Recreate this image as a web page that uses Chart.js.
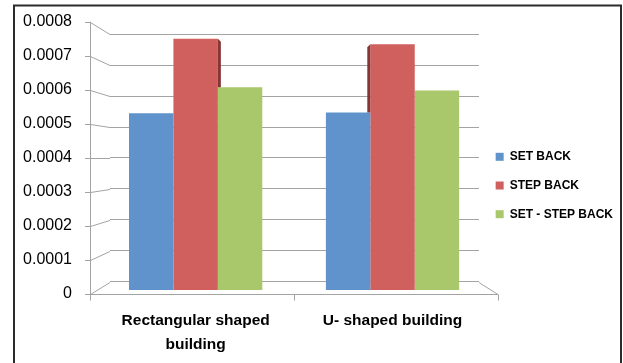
<!DOCTYPE html>
<html>
<head>
<meta charset="utf-8">
<script src="https://cdn.jsdelivr.net/npm/chart.js@4"></script>
<style>
    body { margin: 0; background: #fff; }
    #wrap { position: relative; width: 623px; height: 363px; }
</style>
</head>
<body>
<div id="wrap"><canvas id="buildingChart"></canvas></div>
<script>
// Chart data
const categories = [["Rectangular shaped", "building"], "U- shaped building"];
const setBack = [0.000538, 0.00054];
const stepBack = [0.000765, 0.000748];
const setStepBack = [0.000617, 0.000607];
const yTickValues = [0, 0.0001, 0.0002, 0.0003, 0.0004, 0.0005, 0.0006, 0.0007, 0.0008];
const yTickLabels = ["0", "0.0001", "0.0002", "0.0003", "0.0004", "0.0005", "0.0006", "0.0007", "0.0008"];

const gridColor = '#A3A3A3';
const fontFamily = "'Liberation Sans', Arial, sans-serif";

function toPoints(arr) {
    return arr.map((v, i) => ({ x: i, y: v }));
}

function setTicks(values) {
    return axis => { axis.ticks = values.map(v => ({ value: v })); };
}

// Draws the outer frame plus the 3D wall / floor edges of the Excel-style plot
const frame3d = {
    id: 'frame3d',
    beforeDraw(chart) {
        const ctx = chart.ctx;
        ctx.save();
        ctx.strokeStyle = '#2b2b2b';
        ctx.lineWidth = 2;
        ctx.strokeRect(14, 5.5, 607, 400);
        ctx.restore();
    },
    beforeDatasetsDraw(chart) {
        const { ctx, chartArea, scales } = chart;
        const front = scales.yFront, back = scales.yBack;
        const fx = chartArea.left - 20;
        const frx = chartArea.right + 19;
        const y0 = Math.round(front.getPixelForValue(0)) + 0.5;
        ctx.save();
        ctx.strokeStyle = gridColor;
        ctx.lineWidth = 1;
        ctx.beginPath();
        // front vertical axis
        ctx.moveTo(fx + 0.5, front.getPixelForValue(yTickValues[yTickValues.length - 1]));
        ctx.lineTo(fx + 0.5, y0 + 6);
        yTickValues.forEach(v => {
            const yf = Math.round(front.getPixelForValue(v)) + 0.5;
            const yb = Math.round(back.getPixelForValue(v)) + 0.5;
            ctx.moveTo(fx - 5, yf);
            ctx.lineTo(fx + 0.5, yf);
            ctx.lineTo(chartArea.left, yb);
        });
        // floor
        const yb0 = Math.round(back.getPixelForValue(0)) + 0.5;
        ctx.moveTo(fx, y0);
        ctx.lineTo(frx, y0);
        ctx.lineTo(chartArea.right, yb0);
        const mid = Math.round((fx + frx) / 2) + 0.5;
        ctx.moveTo(mid, y0);
        ctx.lineTo(mid, y0 + 6);
        ctx.moveTo(Math.round(frx) + 0.5, y0);
        ctx.lineTo(Math.round(frx) + 0.5, y0 + 6);
        ctx.stroke();
        ctx.restore();
    },
    // dark side face of the tall middle bar, visible where it rises above its neighbour
    afterDatasetsDraw(chart) {
        const ctx = chart.ctx;
        const mid = chart.getDatasetMeta(1).data;
        const left = chart.getDatasetMeta(0).data;
        const right = chart.getDatasetMeta(2).data;
        ctx.save();
        ctx.fillStyle = '#843534';
        mid.forEach((bar, i) => {
            const half = bar.width / 2;
            ctx.beginPath();
            if (i === 0) {
                const xe = bar.x + half;
                ctx.moveTo(xe, bar.y);
                ctx.lineTo(xe + 3, bar.y + 3);
                ctx.lineTo(xe + 3, right[i].y);
                ctx.lineTo(xe, right[i].y);
            } else {
                const xs = bar.x - half;
                ctx.moveTo(xs, bar.y);
                ctx.lineTo(xs - 3, bar.y + 3);
                ctx.lineTo(xs - 3, left[i].y);
                ctx.lineTo(xs, left[i].y);
            }
            ctx.closePath();
            ctx.fill();
        });
        ctx.restore();
    }
};

const ctx = document.getElementById('buildingChart').getContext('2d');
new Chart(ctx, {
    type: 'bar',
    data: {
        datasets: [
            { label: 'SET BACK', data: toPoints(setBack), backgroundColor: '#6093CB', borderWidth: 0, yAxisID: 'yBar' },
            { label: 'STEP BACK', data: toPoints(stepBack), backgroundColor: '#CF605E', borderWidth: 0, yAxisID: 'yBar' },
            { label: 'SET - STEP BACK', data: toPoints(setStepBack), backgroundColor: '#A9C76B', borderWidth: 0, yAxisID: 'yBar' }
        ]
    },
    options: {
        responsive: true,
        maintainAspectRatio: false,
        animation: false,
        categoryPercentage: 0.677,
        barPercentage: 1.0,
        layout: { padding: { top: 8, right: 0, bottom: 0, left: 0 } },
        plugins: {
            tooltip: { enabled: false },
            legend: {
                position: 'right',
                maxWidth: 144.7,
                labels: {
                    boxWidth: 8,
                    boxHeight: 8,
                    padding: 16.7,
                    color: '#000',
                    font: { family: fontFamily, size: 12, weight: 'bold' }
                }
            }
        },
        scales: {
            x: {
                type: 'linear',
                position: 'bottom',
                offset: false,
                min: -0.435,
                max: 1.439,
                grid: { display: false, drawTicks: false },
                border: { display: false },
                afterBuildTicks: setTicks([0, 1]),
                afterFit: axis => { axis.height = 69.5; },
                ticks: {
                    maxRotation: 0,
                    autoSkip: false,
                    padding: 16,
                    color: '#000',
                    font: { family: fontFamily, size: 15.5, weight: 'bold', lineHeight: 1.5 },
                    callback: (val, i) => categories[i]
                }
            },
            yFront: {
                position: 'left',
                min: 0,
                max: 0.0008,
                grid: { display: false, drawTicks: false },
                border: { display: false },
                afterBuildTicks: setTicks(yTickValues),
                afterFit: axis => {
                    axis.width = 110;
                    axis.paddingTop = 21.7;
                    axis.paddingBottom = 0;
                },
                ticks: {
                    padding: 38,
                    color: '#000',
                    font: { family: fontFamily, size: 16 },
                    callback: (val, i) => yTickLabels[i]
                }
            },
            yBack: {
                position: 'left',
                min: -0.00003816,
                max: 0.00084074,
                grid: { color: gridColor, lineWidth: 1, drawTicks: false },
                border: { display: false },
                afterBuildTicks: setTicks(yTickValues),
                afterFit: axis => { axis.width = 0; axis.paddingTop = 0; axis.paddingBottom = 0; },
                ticks: { display: false }
            },
            yBar: {
                display: false,
                min: -0.00001065,
                max: 0.0008167
            }
        }
    },
    plugins: [frame3d]
});
</script>
</body>
</html>
